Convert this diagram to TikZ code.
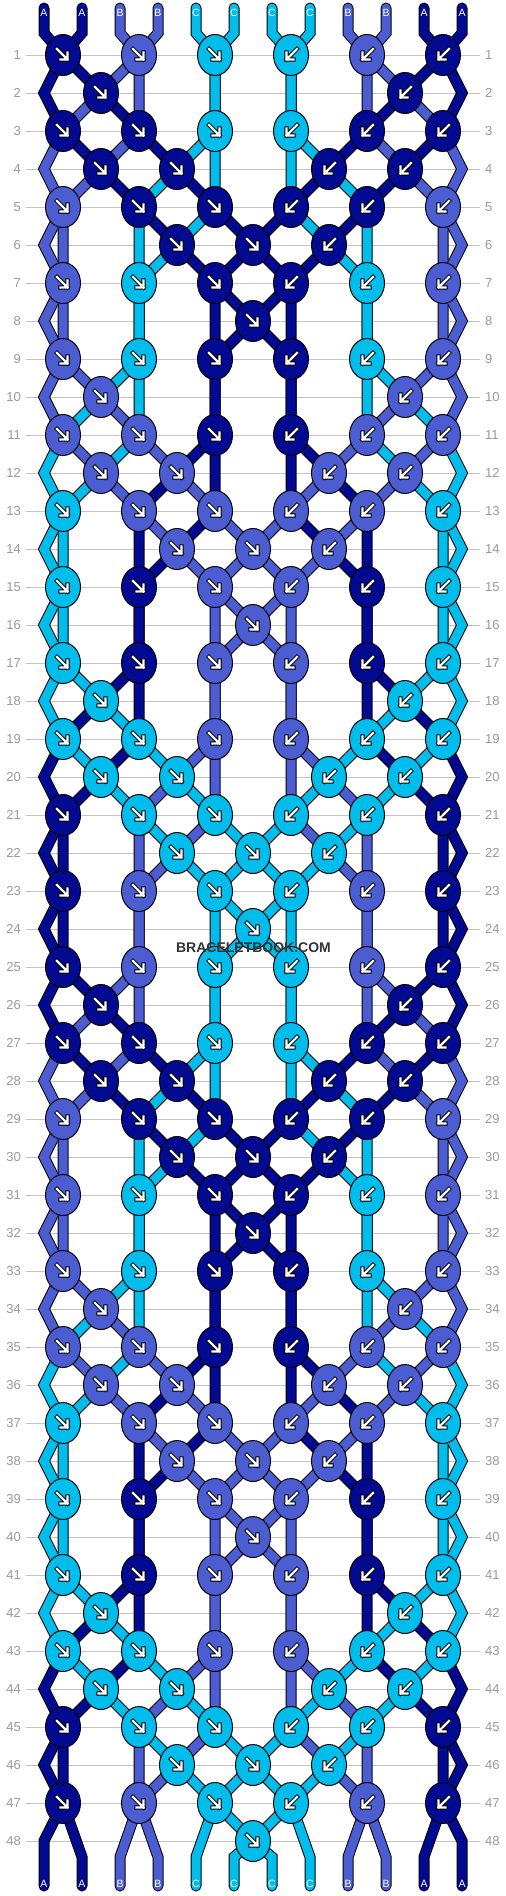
\documentclass[tikz,border=0pt]{standalone}
\usepackage{fontspec}
\setmainfont{Liberation Sans}
\usetikzlibrary{shapes.geometric}
\definecolor{colA}{HTML}{020A91}
\definecolor{colB}{HTML}{4B5DD0}
\definecolor{colC}{HTML}{00BDEC}
\definecolor{gridgray}{HTML}{C4C4C4}
\definecolor{labgray}{HTML}{9A9A9A}
\definecolor{wmgray}{HTML}{333333}
\pgfdeclarelayer{gridlayer}
\pgfdeclarelayer{strandlayer}
\pgfsetlayers{gridlayer,strandlayer,main}
\tikzset{
  knot/.style={ellipse, draw=black, line width=1pt, minimum width=35pt, minimum height=41pt, inner sep=0pt},
  strandout/.style={draw=black, line width=11pt, line cap=round, line join=miter},
  strandin/.style={line width=9pt, line cap=round, line join=miter},
  gridline/.style={draw=gridgray, line width=1pt},
  rowlab/.style={text=labgray, font=\fontsize{13}{13}\selectfont, inner sep=0pt},
  strandlab/.style={text=white, font=\fontsize{10.5}{10.5}\selectfont, inner sep=0pt},
  arrowout/.style={draw=black, line width=4.2pt, line cap=rect, line join=miter},
  arrowin/.style={draw=white, line width=2.4pt, line cap=rect, line join=miter},
  arrF/.pic={
    \draw[arrowout] (-6,-6)--(4.5,4.5) (-2.5,4.5)--(4.5,4.5)--(4.5,-2.5);
    \draw[arrowin] (-6,-6)--(4.5,4.5) (-2.5,4.5)--(4.5,4.5)--(4.5,-2.5);
  },
  arrB/.pic={
    \draw[arrowout] (6,-6)--(-4.5,4.5) (2.5,4.5)--(-4.5,4.5)--(-4.5,-2.5);
    \draw[arrowin] (6,-6)--(-4.5,4.5) (2.5,4.5)--(-4.5,4.5)--(-4.5,-2.5);
  },
  watermark/.style={text=wmgray, font=\bfseries\fontsize{14}{14}\selectfont, inner sep=0pt}
}
\newcommand\mkknot[6]{%
  \edef\kL{\csname sp#3\endcsname}%
  \edef\kR{\csname sp\the\numexpr#3+1\relax\endcsname}%
  \if#6F\edef\kC{\csname scol\kL\endcsname}\else\edef\kC{\csname scol\kR\endcsname}\fi
  \node[knot, fill=\kC] (k#1-#2) at (#4,#5) {};
  \if#6F\pic at (k#1-#2) {arrF};\else\pic at (k#1-#2) {arrB};\fi
  \expandafter\xdef\csname stpath\kL\endcsname{\csname stpath\kL\endcsname--(k#1-#2.center)}%
  \expandafter\xdef\csname stpath\kR\endcsname{\csname stpath\kR\endcsname--(k#1-#2.center)}%
  \expandafter\xdef\csname sp#3\endcsname{\kR}%
  \expandafter\xdef\csname sp\the\numexpr#3+1\relax\endcsname{\kL}%
}
\begin{document}
\begin{tikzpicture}[x=1pt,y=-1pt]
\useasboundingbox (0,0) rectangle (506,1896);
\begin{pgfonlayer}{gridlayer}
  \fill[white] (0,0) rectangle (506,1896);
\end{pgfonlayer}
% strand starts
\foreach \ps/\colname/\labtext in {1/colA/A,2/colA/A,3/colB/B,4/colB/B,5/colC/C,6/colC/C,7/colC/C,8/colC/C,9/colB/B,10/colB/B,11/colA/A,12/colA/A}{%
  \pgfmathsetmacro\xp{44+38*(\ps-1)}%
  \coordinate (tt\ps) at (\xp,8);
  \coordinate (t\ps) at (\xp,33);
  \coordinate (b\ps) at (\xp,1857);
  \coordinate (bb\ps) at (\xp,1886);
  \expandafter\xdef\csname scol\ps\endcsname{\colname}%
  \expandafter\xdef\csname sp\ps\endcsname{\ps}%
  \expandafter\xdef\csname stpath\ps\endcsname{(tt\ps)--(t\ps)}%
  \node[strandlab] (lt\ps) at (\xp,13) {\labtext};
  \node[strandlab] (lb\ps) at (\xp,1884) {\labtext};
}
% rows
\foreach \row in {1,...,48}{%
  \pgfmathtruncatemacro\ry{55+38*(\row-1)}%
  \begin{pgfonlayer}{gridlayer}
    \draw[gridline] (26,\ry) -- (480,\ry);
  \end{pgfonlayer}
  \node[rowlab, anchor=east] (rl\row) at (21,\ry) {\row};
  \node[rowlab, anchor=west] (rr\row) at (485,\ry) {\row};
  \ifodd\row\relax
    \foreach \slot in {1,...,6}{%
      \pgfmathtruncatemacro\kpos{2*\slot-1}%
      \pgfmathtruncatemacro\kx{63+76*(\slot-1)}%
      \ifnum\slot<4 \def\kdir{F}\else\def\kdir{B}\fi
      \mkknot{\row}{\slot}{\kpos}{\kx}{\ry}{\kdir}%
    }%
  \else
    \coordinate (eL\row) at (44,\ry);
    \coordinate (eR\row) at (462,\ry);
    \edef\kL{\csname sp1\endcsname}%
    \expandafter\xdef\csname stpath\kL\endcsname{\csname stpath\kL\endcsname--(eL\row)}%
    \edef\kR{\csname sp12\endcsname}%
    \expandafter\xdef\csname stpath\kR\endcsname{\csname stpath\kR\endcsname--(eR\row)}%
    \pgfmathtruncatemacro\rmod{mod(\row,8)}%
    \ifcase\rmod\relax \def\slots{3}\or\or\def\slots{1,5}\or\or\def\slots{1,2,4,5}\or\or\def\slots{2,3,4}\or\fi
    \foreach \slot in \slots {%
      \pgfmathtruncatemacro\kpos{2*\slot}%
      \pgfmathtruncatemacro\kx{101+76*(\slot-1)}%
      \ifnum\slot<4 \def\kdir{F}\else\def\kdir{B}\fi
      \mkknot{\row}{\slot}{\kpos}{\kx}{\ry}{\kdir}%
    }%
  \fi
}
% strand ends
\foreach \ps in {1,...,12}{%
  \edef\kL{\csname sp\ps\endcsname}%
  \expandafter\xdef\csname stpath\kL\endcsname{\csname stpath\kL\endcsname--(b\ps)--(bb\ps)}%
}
\begin{pgfonlayer}{strandlayer}
  \foreach \sid in {1,...,12}{%
    \edef\tmp{\noexpand\draw[strandout] \csname stpath\sid\endcsname;}\tmp
  }
  \foreach \sid in {1,...,12}{%
    \edef\tmp{\noexpand\draw[strandin, draw=\csname scol\sid\endcsname] \csname stpath\sid\endcsname;}\tmp
  }
\end{pgfonlayer}
\node[watermark] (wm) at (253.5,948) {BRACELETBOOK.COM};
\end{tikzpicture}
\end{document}
